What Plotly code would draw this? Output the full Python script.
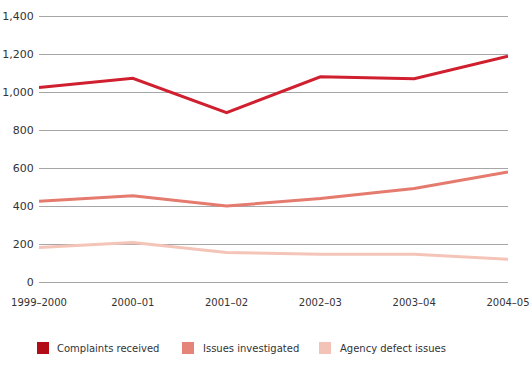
import plotly.graph_objects as go

years = ["1999–2000", "2000–01", "2001–02", "2002–03", "2003–04", "2004–05"]
complaints = [1025, 1073, 892, 1081, 1071, 1190]
investigated = [425, 455, 400, 440, 493, 580]
agency = [182, 208, 155, 146, 146, 120]
y_ticks = [0, 200, 400, 600, 800, 1000, 1200, 1400]

names = ["Complaints received", "Issues investigated", "Agency defect issues"]
values = [complaints, investigated, agency]
line_colors = ["#d01f2e", "#e57a6e", "#f5c4b8"]
legend_colors = ["#b20d17", "#e5857a", "#f4c3b7"]

W, H = 530, 368
L, R, T, B = 39, 22, 14, 86
PW, PH = W - L - R, H - T - B


def px_x(p):
    return (p - L) / PW


def px_y(p):
    return (H - B - p) / PH


fig = go.Figure()
for name, vals, lc in zip(names, values, line_colors):
    fig.add_trace(go.Scatter(x=years, y=vals, mode="lines", name=name,
                             line=dict(color=lc, width=3), showlegend=False,
                             hoverinfo="skip", cliponaxis=False))

# manual legend (squares + labels)
sq_x = [37, 182, 319]
tx_x = [55, 201, 338]
shapes = []
annotations = []
for i, name in enumerate(names):
    shapes.append(dict(type="rect", xref="paper", yref="paper",
                       x0=px_x(sq_x[i]), x1=px_x(sq_x[i] + 12),
                       y0=px_y(354), y1=px_y(342),
                       fillcolor=legend_colors[i], line=dict(width=0)))
    annotations.append(dict(text=name, xref="paper", yref="paper",
                            x=px_x(tx_x[i]), y=px_y(348), xanchor="left",
                            yanchor="middle", showarrow=False,
                            font=dict(size=10, color="#333333")))

fig.update_layout(
    width=W, height=H,
    margin=dict(l=L, r=R, t=T, b=B, autoexpand=False),
    paper_bgcolor="white", plot_bgcolor="white",
    font=dict(family="DejaVu Sans, Verdana, sans-serif", size=11, color="#333333"),
    showlegend=False,
    xaxis=dict(type="category", range=[0, 5], showgrid=False, showline=False,
               zeroline=False, ticks="outside", ticklen=11, tickcolor="rgba(0,0,0,0)",
               tickfont=dict(size=10), automargin=False),
    yaxis=dict(range=[0, 1412], tickvals=y_ticks, tickformat=",d",
               showgrid=True, gridcolor="#a6a6a6", gridwidth=1,
               zeroline=True, zerolinecolor="#a6a6a6", zerolinewidth=1,
               showline=False, ticks="outside", ticklen=2,
               tickcolor="rgba(0,0,0,0)",
               tickfont=dict(size=11), automargin=False),
    shapes=shapes,
    annotations=annotations,
)

fig.write_html("out.html", config={"displayModeBar": False},
               post_script="document.body.style.margin='0';")
